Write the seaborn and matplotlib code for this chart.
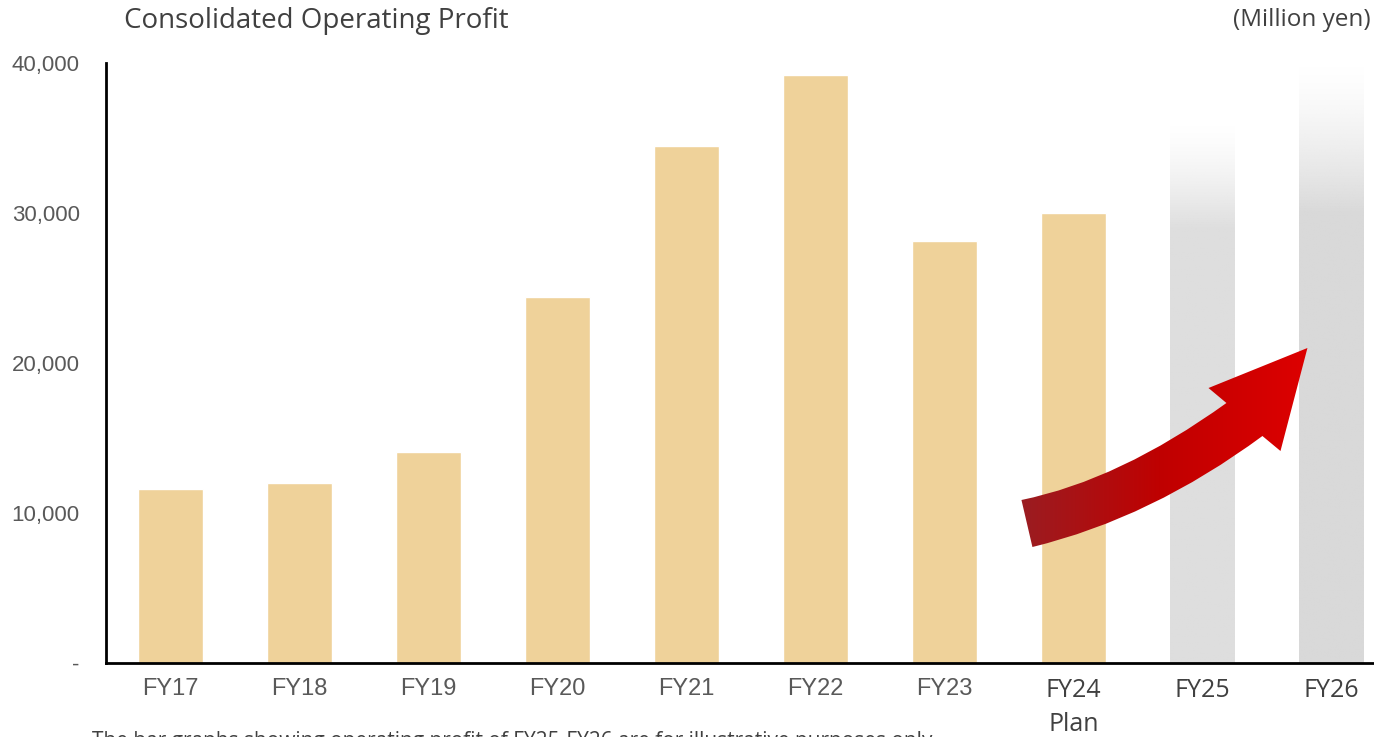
import matplotlib
matplotlib.use("Agg")
import matplotlib.pyplot as plt
import numpy as np
import seaborn as sns
from matplotlib.colors import LinearSegmentedColormap, to_rgb
from matplotlib.patches import PathPatch
from matplotlib.path import Path

# --- data (million yen) ---
categories = ["FY17", "FY18", "FY19", "FY20", "FY21", "FY22", "FY23", "FY24", "FY25", "FY26"]
profit = [11600, 12000, 14100, 24400, 34500, 39200, 28100, 30000, 36000, 40000]
is_image = [False] * 8 + [True, True]   # FY25/FY26 = illustrative bars only
tick_labels = ["FY17", "FY18", "FY19", "FY20", "FY21", "FY22", "FY23", "FY24\nPlan", "FY25", "FY26"]
y_ticks = [0, 10000, 20000, 30000, 40000]
y_tick_labels = ["-", "10,000", "20,000", "30,000", "40,000"]

TAN = "#EFD29A"
GRAYS = {"FY25": "#DEDEDE", "FY26": "#D9D9D9"}
FADE_FROM = {"FY25": 29000, "FY26": 30000}   # gradient starts fading above this
NARROW = ["Liberation Sans", "DejaVu Sans"]

sns.set_theme(style="white")
plt.rcParams["font.family"] = ["Open Sans", "DejaVu Sans"]

fig = plt.figure(figsize=(13.74, 7.37), dpi=100)
ax = fig.add_axes([106 / 1374, 74 / 737, 1 - 106 / 1374, 600 / 737])

palette = {c: (GRAYS[c] if img else TAN) for c, img in zip(categories, is_image)}
sns.barplot(x=categories, y=profit, hue=categories, palette=palette, legend=False,
            width=0.5, saturation=1, ax=ax)

# gradient fill on the illustrative bars
for patch, cat, img in zip(ax.patches, categories, is_image):
    if not img:
        continue
    x0, w, h = patch.get_x(), patch.get_width(), patch.get_height()
    yy = np.linspace(0, h, 256)
    alpha = np.clip((h - yy) / (h - FADE_FROM[cat]), 0, 1) ** 1.4
    rgba = np.zeros((256, 2, 4))
    rgba[..., :3] = to_rgb(GRAYS[cat])
    rgba[..., 3] = alpha[:, None]
    patch.set_facecolor("none")
    im = ax.imshow(rgba, extent=[x0, x0 + w, 0, h], origin="lower",
                   aspect="auto", zorder=patch.get_zorder())
    im.set_clip_path(patch)

# curved "growth" arrow (data coords)
verts = [
    (6.597, 10867), (7.357, 12200), (8.186, 17333),
    (8.047, 18333), (8.814, 21000), (8.605, 14133), (8.465, 15133),
    (7.605, 9667), (6.682, 7733), (6.597, 10867),
]
codes = [Path.MOVETO, Path.CURVE3, Path.CURVE3,
         Path.LINETO, Path.LINETO, Path.LINETO, Path.LINETO,
         Path.CURVE3, Path.CURVE3, Path.CLOSEPOLY]
arrow = PathPatch(Path(verts, codes), facecolor="none", edgecolor="none", zorder=4)
ax.add_patch(arrow)
red_cmap = LinearSegmentedColormap.from_list("arrow", ["#991E23", "#C00000", "#DE0000"])
grad = np.linspace(0, 1, 256)[None, :]
im = ax.imshow(grad, cmap=red_cmap, extent=[6.55, 8.85, 7000, 21500],
               aspect="auto", zorder=4)
im.set_clip_path(arrow)

ax.set_xlim(-0.5, 9.33)
ax.set_ylim(0, 40000)

# axes styling
for side in ["top", "right"]:
    ax.spines[side].set_visible(False)
for side in ["left", "bottom"]:
    ax.spines[side].set_color("black")
    ax.spines[side].set_linewidth(2)
ax.spines["bottom"].set_zorder(5)

ax.set_yticks(y_ticks)
ax.set_yticklabels(y_tick_labels, family=NARROW, fontsize=16, color="#595959")
ax.tick_params(axis="y", length=0, pad=19)

ax.set_xticks(range(len(categories)))
ax.set_xticklabels(tick_labels)
ax.tick_params(axis="x", length=0, pad=11)
for i, lab in enumerate(ax.get_xticklabels()):
    if i < 7:
        lab.set_family(NARROW)
        lab.set_fontsize(17)
        lab.set_color("#595959")
    else:
        lab.set_family(["Open Sans", "DejaVu Sans"])
        lab.set_fontsize(18)
        lab.set_color("#404040")
        lab.set_linespacing(1.45)
ax.set_xlabel("")
ax.set_ylabel("")

fig.text(124 / 1374, 1 - 21 / 737, "Consolidated Operating Profit", fontsize=20,
         color="#404040", ha="left", va="center")
fig.text(1371 / 1374, 1 - 20 / 737, "(Million yen)", fontsize=17.5,
         color="#404040", ha="right", va="center")
fig.text(92 / 1374, -0.013,
         "The bar graphs showing operating profit of FY25-FY26 are for illustrative purposes only.",
         fontsize=15, color="#404040", ha="left", va="baseline")

fig.savefig("out.png", dpi=100)
